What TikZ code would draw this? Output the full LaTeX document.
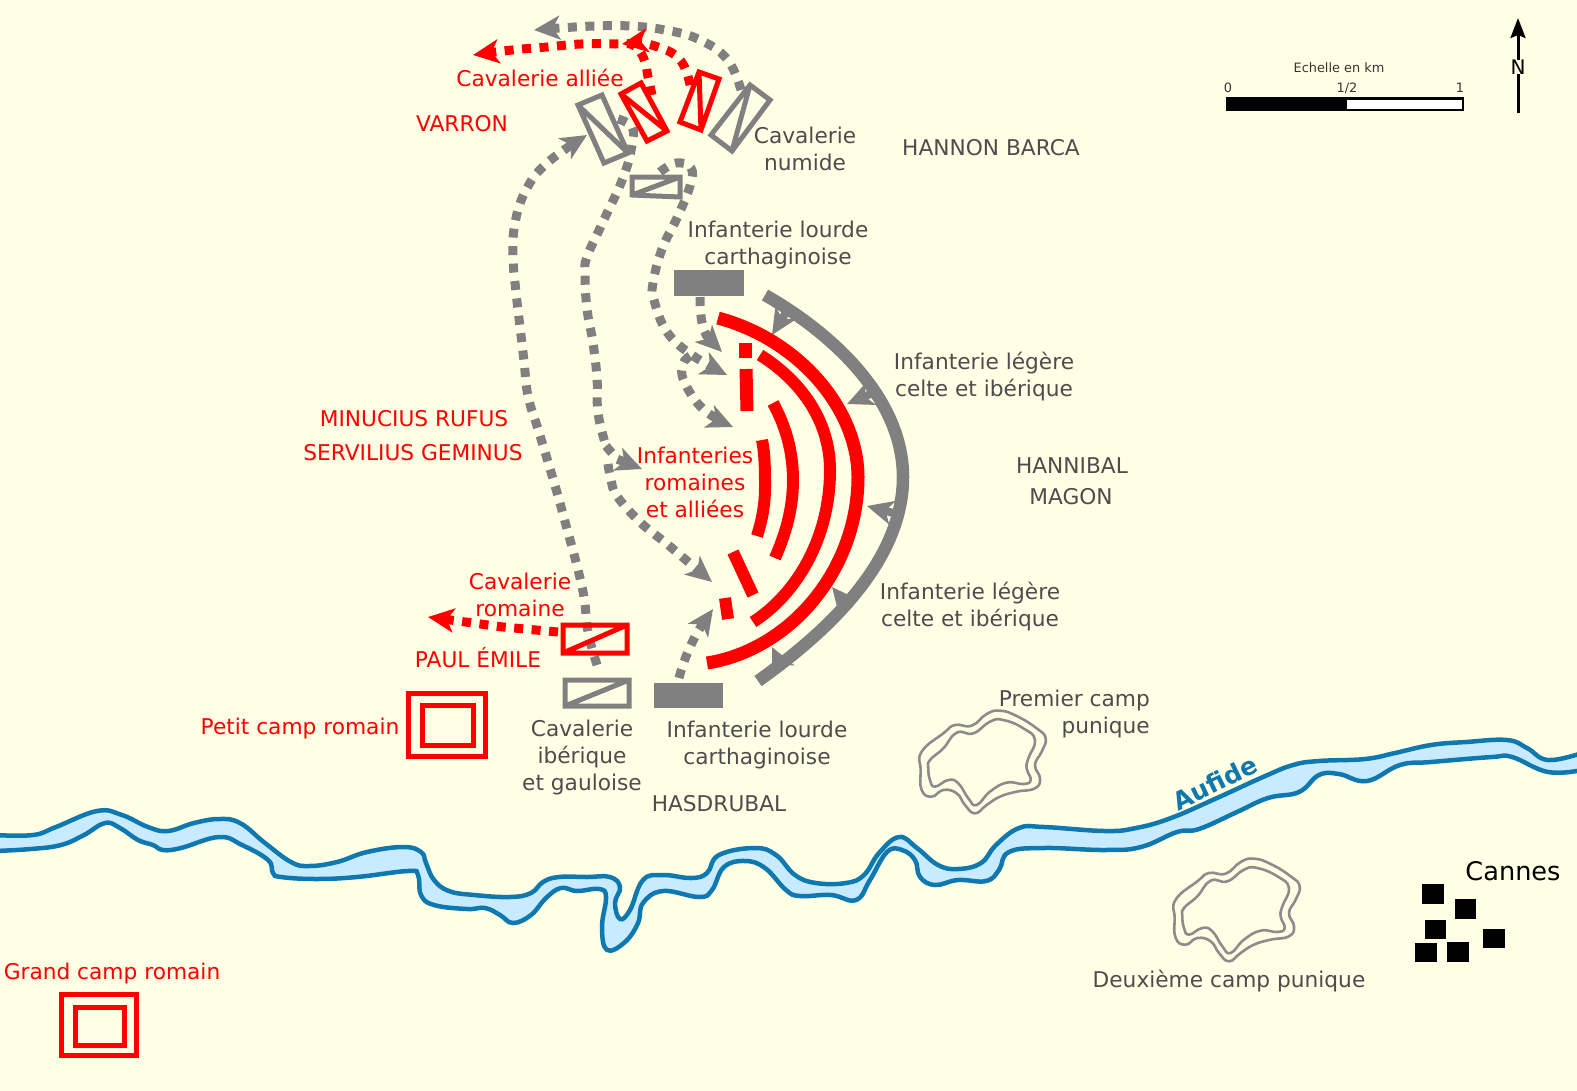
\documentclass[tikz,border=0pt]{standalone}
\usepackage{fontspec}
\setmainfont{DejaVu Sans}
\usetikzlibrary{arrows.meta}
\definecolor{bgc}{HTML}{FFFFE6}
\definecolor{rivl}{HTML}{0F78AE}
\definecolor{rivf}{HTML}{C8EBFF}
\definecolor{gr}{HTML}{808080}
\definecolor{tg}{HTML}{4D4D4D}
\definecolor{cg}{HTML}{8C8C8C}
\tikzset{
 lab/.style={font=\fontsize{21.7pt}{27pt}\selectfont,align=center,inner sep=0pt,text=tg},
 rlab/.style={lab,text=red},
 bank/.style={draw=rivl,line width=4.5pt},
 arcr/.style={draw=red,line width=13pt},
 arcg/.style={draw=gr,line width=12.5pt},
 dotg/.style={draw=gr,line width=9pt,dash pattern=on 9pt off 8.5pt,-{Stealth[length=26pt,width=24pt,inset=7pt]}},
 dotn/.style={draw=gr,line width=9pt,dash pattern=on 9pt off 8.5pt},
 dotr/.style={draw=red,line width=9pt,dash pattern=on 9pt off 8.5pt,-{Stealth[length=26pt,width=24pt,inset=7pt]}},
 stub/.style={draw=gr,line width=8pt,-{Stealth[length=26pt,width=24pt,inset=7pt]}},
 unitr/.style={draw=red,line width=5pt,line join=miter},
 unitg/.style={draw=gr,line width=5pt,line join=miter},
 camp/.style={draw=red,line width=5pt},
 punic/.style={draw=cg,line width=2.6pt,line join=round},
 sq/.style={fill=black}
}
\newcommand{\punicamp}{%
 \draw[punic] plot[smooth cycle,tension=0.8] coordinates {(65,185)(130,130)(165,105)(215,107)(260,72)(300,62)(350,78)(410,115)(437,145)(425,185)(405,225)(420,265)(405,295)(350,305)(300,320)(260,345)(225,370)(195,345)(170,310)(130,300)(95,320)(65,300)(62,240)};
 \draw[punic] plot[smooth cycle,tension=0.8] coordinates {(90,210)(130,175)(170,128)(220,130)(270,95)(310,90)(370,115)(405,150)(385,205)(380,235)(392,270)(370,282)(320,278)(270,305)(230,345)(205,325)(175,280)(145,270)(105,290)(90,270)(85,235)};
}
\begin{document}
\begin{tikzpicture}[x=1pt,y=-1pt]
\path[use as bounding box] (0,0) rectangle (1577,1090);
\clip (0,0) rectangle (1577,1090);
\fill[bgc] (0,0) rectangle (1577,1090);
% river
\def\upper{(-5,835)(33,835)(56,827)(97,811)(122,815)(148,827)(168,831)(194,823)(219,819)(240,823)(265,843)(291,862)(309,866)(337,862)(367,852)(403,847)(421,852)(426,863)(434,880)(449,891)(474,895)(510,897)(531,893)(543,882)(559,877)(587,877)(610,877)(620,887)(615,903)(620,919)(630,910)(643,880)(663,875)(691,878)(707,873)(719,855)(755,848)(776,855)(795,875)(816,883)(846,883)(864,875)(879,853)(899,837)(917,848)(938,865)(958,869)(981,863)(996,845)(1019,828)(1044,827)(1105,831)(1136,828)(1171,818)(1217,798)(1263,777)(1293,765)(1319,761)(1365,759)(1395,753)(1431,745)(1466,742)(1507,740)(1527,748)(1548,760)(1582,753)}
\def\lower{(-5,851)(31,849)(61,845)(84,835)(105,823)(120,828)(138,840)(153,845)(163,850)(181,848)(219,837)(242,845)(268,860)(273,873)(281,877)(316,879)(357,877)(408,871)(418,875)(421,895)(434,905)(467,909)(485,908)(500,915)(513,923)(531,915)(546,898)(561,888)(577,891)(599,889)(606,897)(602,927)(607,950)(625,942)(638,923)(643,903)(663,891)(699,897)(712,890)(724,867)(745,861)(765,868)(786,890)(800,896)(831,895)(856,900)(870,880)(887,852)(902,850)(915,860)(920,877)(935,885)(958,880)(986,881)(999,870)(1009,852)(1044,848)(1105,850)(1141,847)(1177,832)(1199,829)(1237,812)(1268,798)(1299,792)(1319,775)(1339,774)(1367,781)(1400,765)(1431,762)(1492,757)(1512,757)(1548,772)(1582,770)}
\fill[rivf] plot[smooth,tension=0.7] coordinates {\upper} -- (1582,1100) -- (-5,1100) -- cycle;
\fill[bgc] plot[smooth,tension=0.7] coordinates {\lower} -- (1582,1100) -- (-5,1100) -- cycle;
\draw[bank] plot[smooth,tension=0.7] coordinates {\upper};
\draw[bank] plot[smooth,tension=0.7] coordinates {\lower};
\node[rotate=26,text=rivl,font=\fontsize{25pt}{28pt}\selectfont\bfseries,inner sep=0pt] (aufide) at (1215,783) {Aufide};
% punic camps
\begin{scope}[shift={(900,690)},x=0.3333pt,y=-0.3333pt]\punicamp\end{scope}
\begin{scope}[shift={(1154,838)},x=0.3333pt,y=-0.3333pt]\punicamp\end{scope}
% roman camps
\draw[camp] (408,693) rectangle (485,756);
\draw[camp] (422,705) rectangle (473,745);
\draw[camp] (61,994) rectangle (136,1055);
\draw[camp] (75,1007) rectangle (124,1045);
% dotted grey manoeuvres
\draw[dotg] plot[smooth,tension=0.7] coordinates {(741,90)(727,59)(698,39)(665,30)(630,26)(595,26)(560,28)(534,30)};
\draw[dotg] plot[smooth,tension=0.7] coordinates {(597,665)(588,632)(584,597)(576,562)(567,529)(558,496)(548,462)(538,429)(528,396)(524,361)(520,327)(516,292)(513,257)(515,223)(526,190)(547,163)(587,135)};
\draw[dotn] plot[smooth,tension=0.7] coordinates {(618,119)(632,127)(632,145)(623,178)(601,226)(587,257)(585,274)(587,309)(593,343)(597,378)(598,413)(606,446)};
\draw[dotg] (606,446) -- (617,459) -- (642,469);
\draw[dotg] plot[smooth,tension=0.7] coordinates {(608,464)(611,480)(617,496)(640,522)(667,544)(693,566)(712,582)};
\draw[dotg] plot[smooth,tension=0.7] coordinates {(660,172)(676,163)(691,168)(690,186)(677,218)(662,249)(653,283)(654,300)(667,332)(692,355)(727,375)};
\draw[dotg] plot[smooth,tension=0.7] coordinates {(690,356)(683,364)(684,381)(703,409)(733,427)};
\draw[dotg] (700,297) .. controls (700,325) and (705,335) .. (722,352);
\draw[dotg] (679,678) .. controls (685,655) and (695,635) .. (713,609);
% solid grey bodies
\fill[gr] (674,270) rectangle (744,296);
\fill[gr] (654,683) rectangle (723,708);
% grey units
\draw[unitg] (578,105) -- (602,95) -- (628,153) -- (604,163) -- cycle (578,105) -- (628,153);
\draw[unitg] (750,85) -- (770,100) -- (732,151) -- (711,135) -- cycle (750,85) -- (732,151);
\draw[unitg] (632,177) -- (680,177) -- (680,197) -- (632,195) -- cycle (680,177) -- (632,195);
\draw[unitg] (565,680) -- (629,680) -- (629,706) -- (565,706) -- cycle (565,706) -- (629,680);
% grey arc
\draw[arcg] (765,295) .. controls (835,335) and (903,400) .. (903,477) .. controls (903,560) and (830,630) .. (758,681);
\draw[stub] (785,314) -- (772,335);
\draw[stub] (875,392) -- (847,404);
\draw[stub] (897,514) -- (867,506);
\draw[stub] (850,609) -- (832,587);
\draw[stub] (782,668) -- (772,647);
% red arcs
\draw[arcr] (718,318) .. controls (800,340) and (858,410) .. (858,477) .. controls (858,570) and (790,650) .. (707,663);
\draw[arcr,line width=12pt] (760,355) .. controls (800,380) and (830,420) .. (830,470) .. controls (830,540) and (795,595) .. (753,622);
\draw[arcr,line width=12pt] (773,403) .. controls (785,425) and (793,450) .. (793,480) .. controls (793,510) and (785,535) .. (775,558);
\draw[arcr,line width=12pt] (762,440) .. controls (765,455) and (765,470) .. (765,487) .. controls (765,505) and (762,520) .. (757,536);
\draw[arcr] (745,343) -- (745,358);
\draw[arcr] (746,369) -- (747,411);
\draw[arcr,line width=12pt] (733,552) -- (753,595);
\draw[arcr,line width=12pt] (725,598) -- (728,619);
% red units
\draw[dotr] plot[smooth,tension=0.7] coordinates {(690,85)(685,68)(675,55)(658,47)(640,43)(622,44)};
\draw[dotr] plot[smooth,tension=0.7] coordinates {(652,95)(648,77)(644,59)(633,45)(615,44)(581,44)(547,47)(512,50)(473,55)};
\draw[unitr] (621,94) -- (641,83) -- (667,131) -- (647,141) -- cycle (621,94) -- (667,131);
\draw[unitr] (699,72) -- (719,79) -- (701,130) -- (680,122) -- cycle (699,72) -- (701,130);
\draw[dotr] (558,632) -- (503,627) -- (428,617);
\draw[unitr] (563,625) -- (627,625) -- (627,653) -- (563,653) -- cycle (563,653) -- (627,625);
% labels
\node[rlab] (alliee) at (540,78) {Cavalerie alliée};
\node[rlab] (varron) at (462,124) {VARRON};
\node[lab] (numide) at (805,149) {Cavalerie\\numide};
\node[lab] (hannon) at (991,148) {HANNON BARCA};
\node[lab] (ilc1) at (778,245) {Infanterie lourde\\carthaginoise};
\node[lab] (ile1) at (984,377) {Infanterie légère\\celte et ibérique};
\node[lab] (hannibal) at (1072,466) {HANNIBAL};
\node[lab] (magon) at (1071,497) {MAGON};
\node[lab] (ile2) at (970,607) {Infanterie légère\\celte et ibérique};
\node[rlab] (minucius) at (414,419) {MINUCIUS RUFUS};
\node[rlab] (servilius) at (413,453) {SERVILIUS GEMINUS};
\node[rlab] (infrom) at (695,482) {Infanteries\\romaines\\et alliées};
\node[rlab] (cavrom) at (520,595) {Cavalerie\\romaine};
\node[rlab] (paul) at (478,658) {PAUL ÉMILE};
\node[rlab] (petit) at (300,729) {Petit camp romain};
\node[lab] (cavib) at (582,758) {Cavalerie\\ibérique\\et gauloise};
\node[lab] (ilc2) at (757,745) {Infanterie lourde\\carthaginoise};
\node[lab] (hasdrubal) at (719,804) {HASDRUBAL};
\node[lab,align=right,anchor=east] (premier) at (1150,714) {Premier camp\\punique};
\node[lab] (deuxieme) at (1229,981) {Deuxième camp punique};
\node[rlab] (grand) at (112,973) {Grand camp romain};
\node[inner sep=0pt,font=\fontsize{25.6pt}{30pt}\selectfont] (cannes) at (1513,871) {Cannes};
% Cannes
\fill[sq] (1422,884) rectangle (1444,904);
\fill[sq] (1455,899) rectangle (1476,919);
\fill[sq] (1425,920) rectangle (1446,939);
\fill[sq] (1483,929) rectangle (1505,948);
\fill[sq] (1415,943) rectangle (1437,962);
\fill[sq] (1447,942) rectangle (1469,962);
% scale
\node[inner sep=0pt,text=tg!70!black,font=\fontsize{12.9pt}{15pt}\selectfont] (echelle) at (1339,68) {Echelle en km};
\node[inner sep=0pt,text=tg!70!black,font=\fontsize{12.9pt}{15pt}\selectfont] (s0) at (1228,88) {0};
\node[inner sep=0pt,text=tg!70!black,font=\fontsize{12.9pt}{15pt}\selectfont] (s12) at (1347,88) {1/2};
\node[inner sep=0pt,text=tg!70!black,font=\fontsize{12.9pt}{15pt}\selectfont] (s1) at (1460,88) {1};
\fill[black] (1226,97) rectangle (1464,111);
\fill[white] (1347,99.5) rectangle (1462,108.5);
% north
\node[inner sep=0pt,font=\fontsize{20pt}{24pt}\selectfont] (north) at (1518,67) {N};
\coordinate (nb) at (1518,113);
\coordinate (nt) at (1518,18);
\draw[line width=3pt] (nb) -- (north.south);
\draw[line width=3pt,-{Stealth[length=20pt,width=15pt,inset=3pt]}] (north.north) -- (nt);
\end{tikzpicture}
\end{document}
